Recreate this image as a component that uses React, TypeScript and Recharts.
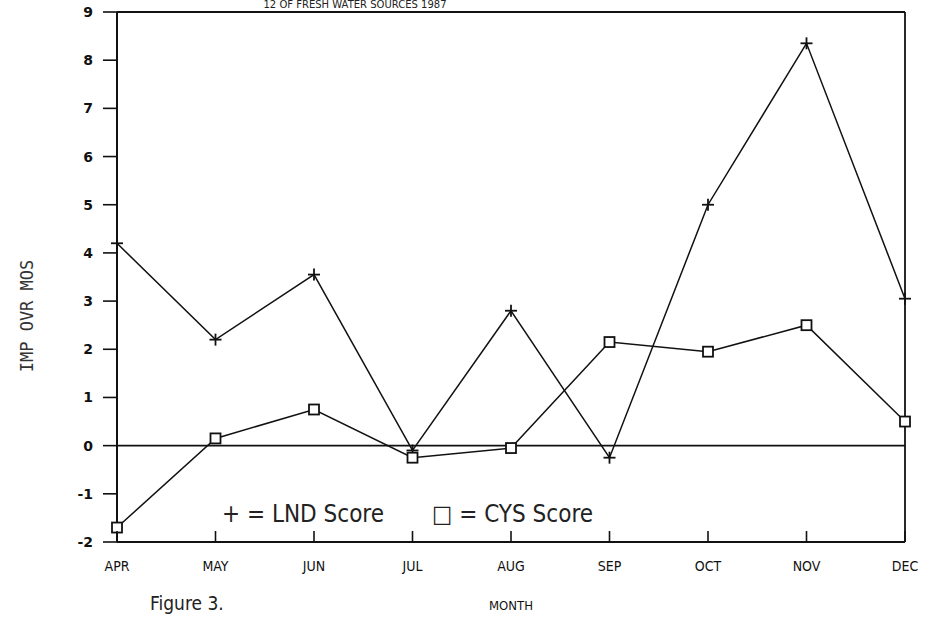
import { Line, LineChart, ReferenceLine, XAxis, YAxis } from 'recharts';

const months = ['APR', 'MAY', 'JUN', 'JUL', 'AUG', 'SEP', 'OCT', 'NOV', 'DEC'];
const lndScore = [4.2, 2.2, 3.55, -0.1, 2.8, -0.25, 5.0, 8.35, 3.05];
const cysScore = [-1.7, 0.15, 0.75, -0.25, -0.05, 2.15, 1.95, 2.5, 0.5];
const yTicks = [-2, -1, 0, 1, 2, 3, 4, 5, 6, 7, 8, 9];

const data = months.map((m, i) => ({ month: m, lnd: lndScore[i], cys: cysScore[i] }));

const plotFont = '"DejaVu Sans", sans-serif';
const narrowFont = '"Liberation Sans Narrow", "DejaVu Sans Condensed", sans-serif';
const monoFont = '"DejaVu Sans Mono", monospace';

function PlusDot({ cx, cy }: any) {
  return (
    <g>
      <line x1={cx - 6} y1={cy} x2={cx + 6} y2={cy} stroke="#111" strokeWidth={1.8} />
      <line x1={cx} y1={cy - 6} x2={cx} y2={cy + 6} stroke="#111" strokeWidth={1.8} />
    </g>
  );
}

function SquareDot({ cx, cy }: any) {
  return <rect x={cx - 5} y={cy - 5} width={10} height={10} fill="#fff" stroke="#111" strokeWidth={1.8} />;
}

function MonthTick({ x, y, payload }: any) {
  return (
    <g>
      <line x1={x} y1={y - 11} x2={x} y2={y} stroke="#111" strokeWidth={1.6} />
      <text x={x} y={y + 29} textAnchor="middle" fontSize={14} fontFamily={narrowFont} fill="#111">
        {payload.value}
      </text>
    </g>
  );
}

export default function App() {
  return (
    <div style={{ position: 'absolute', left: 0, top: 0, width: 927, height: 618, background: '#fff' }}>
      <LineChart width={927} height={618} data={data} margin={{ top: 12, right: 22, bottom: 46, left: 57 }}>
        <text x={355} y={8} textAnchor="middle" fontSize={10} fontFamily={plotFont} fill="#222">
          12 OF FRESH WATER SOURCES 1987
        </text>
        <text
          x={27}
          y={316}
          transform="rotate(-90, 27, 316)"
          textAnchor="middle"
          dominantBaseline="central"
          fontSize={17}
          fontFamily={monoFont}
          fill="#333"
        >
          IMP  OVR  MOS
        </text>
        <XAxis
          dataKey="month"
          height={30}
          tickSize={0}
          tickMargin={0}
          tick={<MonthTick />}
          axisLine={{ stroke: '#111', strokeWidth: 2 }}
          interval={0}
          label={{ value: 'MONTH', position: 'insideBottom', offset: -38, fontSize: 13, fontFamily: narrowFont, fill: '#111' }}
        />
        <YAxis
          width={60}
          domain={[-2, 9]}
          ticks={yTicks}
          tickSize={14}
          tickMargin={10}
          interval={0}
          tick={{ fontSize: 14, fontFamily: plotFont, fontWeight: 'bold', fill: '#111' }}
          tickLine={{ stroke: '#111', strokeWidth: 1.6 }}
          axisLine={{ stroke: '#111', strokeWidth: 2 }}
        />
        <ReferenceLine y={9} stroke="#111" strokeWidth={2} />
        <ReferenceLine x="DEC" stroke="#111" strokeWidth={1.8} />
        <ReferenceLine y={0} stroke="#111" strokeWidth={1.8} />
        <Line dataKey="lnd" stroke="#111" strokeWidth={1.5} dot={<PlusDot />} isAnimationActive={false} />
        <Line dataKey="cys" stroke="#111" strokeWidth={1.5} dot={<SquareDot />} isAnimationActive={false} />
      </LineChart>
      <div style={{ position: 'absolute', left: 222, top: 500, fontFamily: narrowFont, fontSize: 24, color: '#222', whiteSpace: 'pre' }}>
        {'+ = LND Score'}
      </div>
      <div style={{ position: 'absolute', left: 432, top: 500, fontFamily: narrowFont, fontSize: 24, color: '#222', whiteSpace: 'pre' }}>
        {'\u25A1 = CYS Score'}
      </div>
      <div style={{ position: 'absolute', left: 150, top: 592, fontFamily: narrowFont, fontSize: 19, color: '#222' }}>
        Figure 3.
      </div>
    </div>
  );
}
